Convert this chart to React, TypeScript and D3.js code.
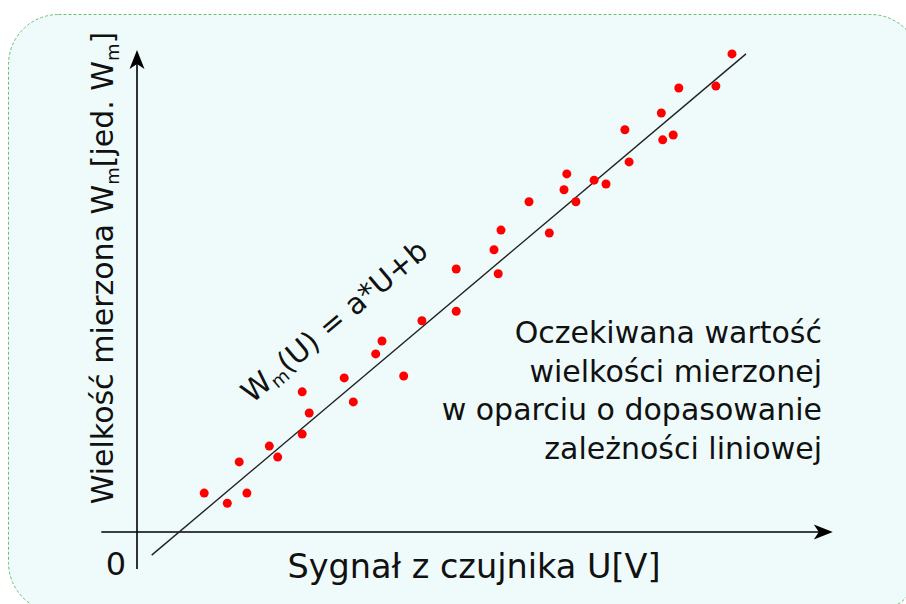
import React, { useEffect, useRef } from "react";
import * as d3 from "d3";

// measured points: sensor signal U and measured quantity Wm
const signalU = [
  0.96, 1.29, 1.46, 1.57, 1.89, 2.01, 2.36, 2.36, 2.46, 2.96, 3.09, 3.41,
  3.5, 3.81, 4.07, 4.56, 4.56, 5.1, 5.16, 5.2, 5.6, 5.89, 6.1, 6.14, 6.27,
  6.53, 6.7, 6.97, 7.03, 7.49, 7.51, 7.66, 7.74, 8.27, 8.5
];
const measuredW = [
  0.81, 0.6, 1.46, 0.81, 1.79, 1.56, 2.04, 2.92, 2.48, 3.21, 2.71, 3.71,
  3.98, 3.25, 4.4, 4.6, 5.48, 5.88, 5.38, 6.29, 6.88, 6.23, 7.13, 7.46, 6.88,
  7.33, 7.25, 8.38, 7.71, 8.73, 8.17, 8.27, 9.25, 9.29, 9.96
];

// fitted line Wm(U) = a*U + b and the span it is drawn over
const fitA = 1.23;
const fitB = -0.74;
const fitRange = [0.21, 8.7];

// axis extents (in data units)
const xAxisRange = [-0.51, 9.94];
const yAxisRange = [-0.77, 10.04];

const xLabel = "Sygnał z czujnika U[V]";
const noteLines = [
  "Oczekiwana wartość",
  "wielkości mierzonej",
  "w oparciu o dopasowanie",
  "zależności liniowej"
];

const FONT = "DejaVu Sans, Verdana, sans-serif";

export default function App() {
  const ref = useRef<SVGSVGElement>(null);

  useEffect(() => {
    const svg = d3.select(ref.current);
    svg.selectAll("*").remove();

    const x = d3.scaleLinear().domain([0, 10]).range([137, 837]);
    const y = d3.scaleLinear().domain([0, 10]).range([532, 52]);

    // background card
    svg
      .append("rect")
      .attr("x", 8.5)
      .attr("y", 14.5)
      .attr("width", 912)
      .attr("height", 598)
      .attr("rx", 50)
      .attr("fill", "#effbfb")
      .attr("stroke", "#6cbf6c")
      .attr("stroke-width", 1)
      .attr("stroke-dasharray", "3,2");

    const g = svg.append("g");

    // axes
    const x0 = x(0);
    const y0 = y(0);
    const xEnd = x(xAxisRange[1]);
    const yEnd = y(yAxisRange[1]);
    g.append("line")
      .attr("x1", x(xAxisRange[0]))
      .attr("x2", xEnd - 10)
      .attr("y1", y0)
      .attr("y2", y0)
      .attr("stroke", "#000")
      .attr("stroke-width", 1.6);
    g.append("line")
      .attr("x1", x0)
      .attr("x2", x0)
      .attr("y1", y(yAxisRange[0]))
      .attr("y2", yEnd + 10)
      .attr("stroke", "#000")
      .attr("stroke-width", 1.6);

    // arrow heads
    g.append("path")
      .attr(
        "d",
        `M${xEnd},${y0} L${xEnd - 19},${y0 - 7.5} L${xEnd - 14},${y0} L${xEnd - 19},${y0 + 7.5} Z`
      )
      .attr("fill", "#000");
    g.append("path")
      .attr(
        "d",
        `M${x0},${yEnd} L${x0 - 7.5},${yEnd + 19} L${x0},${yEnd + 14} L${x0 + 7.5},${yEnd + 19} Z`
      )
      .attr("fill", "#000");

    // fitted line
    const line = d3
      .line<number>()
      .x(d => x(d))
      .y(d => y(fitA * d + fitB));
    g.append("path")
      .attr("d", line(fitRange))
      .attr("fill", "none")
      .attr("stroke", "#222")
      .attr("stroke-width", 1.4);

    // measured points
    g.selectAll("circle")
      .data(signalU)
      .enter()
      .append("circle")
      .attr("cx", d => x(d))
      .attr("cy", (d, i) => y(measuredW[i]))
      .attr("r", 4.5)
      .attr("fill", "#ff0000");

    // labels
    const text = svg
      .append("g")
      .attr("font-family", FONT)
      .attr("fill", "#111");

    text
      .append("text")
      .attr("x", 116)
      .attr("y", 575)
      .attr("text-anchor", "middle")
      .attr("font-size", 32)
      .text("0");

    text
      .append("text")
      .attr("x", 474)
      .attr("y", 578)
      .attr("text-anchor", "middle")
      .attr("font-size", 33.5)
      .text(xLabel);

    const yl = text
      .append("text")
      .attr("transform", "translate(113,268) rotate(-90)")
      .attr("text-anchor", "middle")
      .attr("font-size", 30);
    yl.append("tspan").text("Wielkość mierzona W");
    yl.append("tspan").attr("font-size", 18).attr("dy", 6).text("m");
    yl.append("tspan").attr("dy", -6).text("[jed. W");
    yl.append("tspan").attr("font-size", 18).attr("dy", 6).text("m");
    yl.append("tspan").attr("dy", -6).text("]");

    const angle = (Math.atan(fitA * (48 / 70)) * 180) / Math.PI;
    const eq = text
      .append("text")
      .attr("transform", `translate(252,404) rotate(${-angle})`)
      .attr("font-size", 29.5);
    eq.append("tspan").text("W");
    eq.append("tspan").attr("font-size", 18).attr("dy", 5).text("m");
    eq.append("tspan").attr("dy", -5).text("(U) = a*U+b");

    text
      .selectAll(".note")
      .data(noteLines)
      .enter()
      .append("text")
      .attr("class", "note")
      .attr("x", 822)
      .attr("y", (d, i) => 343 + i * 38.5)
      .attr("text-anchor", "end")
      .attr("font-size", 30)
      .text(d => d);
  }, []);

  return (
    <svg
      ref={ref}
      width={906}
      height={604}
      style={{ position: "absolute", left: 0, top: 0, background: "#fff" }}
    />
  );
}
